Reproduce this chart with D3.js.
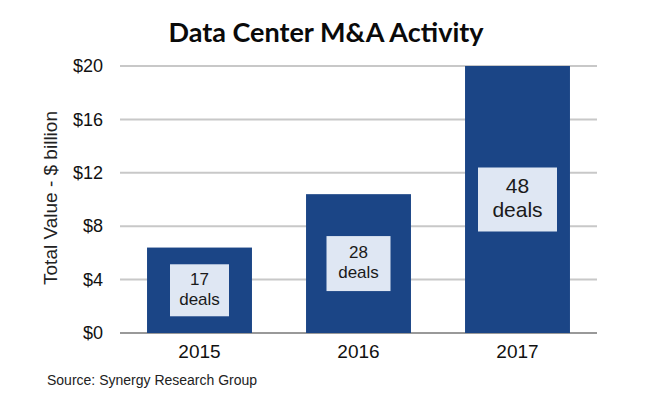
<!DOCTYPE html>
<html>
<head>
<meta charset="utf-8">
<script src="https://cdn.jsdelivr.net/npm/d3@7"></script>
<style>
  body { margin: 0; background: #fff; }
  text { font-family: "Liberation Sans", Arial, sans-serif; }
</style>
</head>
<body>
<div id="chart"></div>
<script>
// chart data
let years = ["2015", "2016", "2017"];
let totalValue = [6.4, 10.4, 20];
let dealCounts = [17, 28, 48];
let yTicks = [0, 4, 8, 12, 16, 20];

let svgWidth = 648;
let svgHeight = 399;

let margin = { top: 66, bottom: 66, right: 51, left: 120 };
let width = svgWidth - margin.left - margin.right;
let height = svgHeight - margin.top - margin.bottom;

let svg = d3.select("#chart")
  .append("svg")
  .attr("width", svgWidth)
  .attr("height", svgHeight);

// title
svg.append("text")
  .attr("x", 326)
  .attr("y", 42)
  .attr("text-anchor", "middle")
  .style("font-family", "Lato, 'Open Sans', sans-serif")
  .style("font-weight", "bold")
  .style("font-size", "27px")
  .attr("fill", "#0a0a0a")
  .text("Data Center M&A Activity");

let chartGroup = svg.append("g")
  .attr("transform", `translate(${margin.left}, ${margin.top})`);

let xScale = d3.scaleBand()
  .domain(years)
  .range([0, width])
  .paddingInner(0.34)
  .paddingOuter(0.17);

let yScale = d3.scaleLinear()
  .domain([0, 20])
  .range([height, 0]);

// gridlines
chartGroup.selectAll(".grid")
  .data(yTicks)
  .enter()
  .append("line")
  .attr("x1", 0)
  .attr("x2", width)
  .attr("y1", d => yScale(d))
  .attr("y2", d => yScale(d))
  .attr("stroke", d => d === 0 ? "#999" : "#c8c8c8")
  .attr("stroke-width", 2);

// y axis labels
let leftAxis = d3.axisLeft(yScale)
  .tickValues(yTicks)
  .tickFormat(d => "$" + d)
  .tickSize(0)
  .tickPadding(17);

let yAxisG = chartGroup.append("g").call(leftAxis);
yAxisG.select(".domain").remove();
yAxisG.selectAll("text")
  .style("font-size", "18px")
  .style("font-family", "'Liberation Sans', Arial, sans-serif")
  .attr("fill", "#111");

// x axis labels
let bottomAxis = d3.axisBottom(xScale).tickSize(0).tickPadding(12);
let xAxisG = chartGroup.append("g")
  .attr("transform", `translate(0, ${height})`)
  .call(bottomAxis);
xAxisG.select(".domain").remove();
xAxisG.selectAll("text")
  .style("font-size", "19px")
  .style("font-family", "'Liberation Sans', Arial, sans-serif")
  .attr("fill", "#111");

// bars
chartGroup.selectAll(".bar")
  .data(years)
  .enter()
  .append("rect")
  .attr("x", d => xScale(d))
  .attr("y", (d, i) => yScale(totalValue[i]))
  .attr("width", xScale.bandwidth())
  .attr("height", (d, i) => height - yScale(totalValue[i]))
  .attr("fill", "#1b4586");

// deal label boxes
years.forEach(function (yr, i) {
  let fs = i === 2 ? 21 : 17;
  let cx = xScale(yr) + xScale.bandwidth() / 2;
  let cy = (yScale(totalValue[i]) + height) / 2;
  let bw = i === 2 ? 79 : (i === 1 ? 64 : 59);
  let bh = i === 2 ? 64 : (i === 1 ? 55 : 52);
  let g = chartGroup.append("g");
  g.append("rect")
    .attr("x", cx - bw / 2)
    .attr("y", cy - bh / 2)
    .attr("width", bw)
    .attr("height", bh)
    .attr("fill", "#dfe7f3");
  g.append("text")
    .attr("x", cx)
    .attr("y", cy - fs * 0.3)
    .attr("text-anchor", "middle")
    .style("font-size", fs + "px")
    .attr("fill", "#1a1a1a")
    .text(dealCounts[i]);
  g.append("text")
    .attr("x", cx)
    .attr("y", cy + fs * 0.85)
    .attr("text-anchor", "middle")
    .style("font-size", fs + "px")
    .attr("fill", "#1a1a1a")
    .text("deals");
});

// y axis title
svg.append("text")
  .attr("transform", "rotate(-90)")
  .attr("x", -198)
  .attr("y", 57)
  .attr("text-anchor", "middle")
  .style("font-size", "19px")
  .attr("fill", "#222")
  .text("Total Value - $ billion");

// source
svg.append("text")
  .attr("x", 47)
  .attr("y", 385)
  .style("font-size", "14px")
  .attr("fill", "#222")
  .text("Source: Synergy Research Group");
</script>
</body>
</html>
